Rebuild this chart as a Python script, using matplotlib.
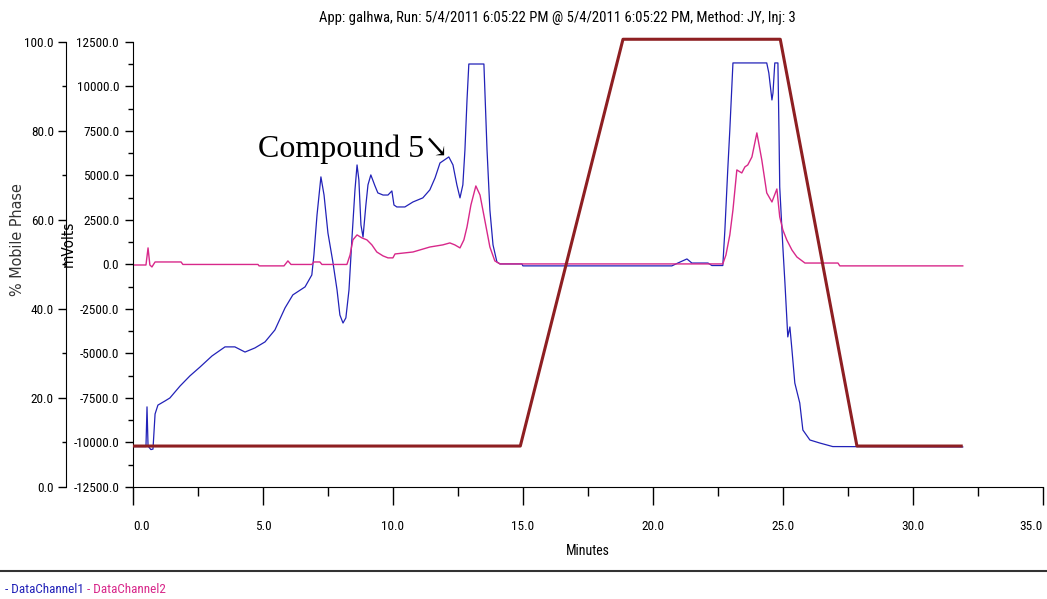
import matplotlib
matplotlib.use("Agg")
import matplotlib.pyplot as plt
from matplotlib import font_manager
from matplotlib.lines import Line2D
from matplotlib.ticker import MultipleLocator, FormatStrFormatter

# ---------------------------------------------------------------------------
# Data (time in minutes)
# ---------------------------------------------------------------------------

# DataChannel1 (mVolts)
ch1_t = [0.0, 0.5, 0.54, 0.58, 0.69, 0.77, 0.85, 0.96, 1.23, 1.42, 1.81, 2.19,
         2.58, 3.04, 3.54, 3.92, 4.31, 4.69, 5.08, 5.46, 5.85, 6.15, 6.62, 6.88,
         6.96, 7.08, 7.23, 7.35, 7.5, 7.69, 7.85, 7.96, 8.08, 8.19, 8.31, 8.42,
         8.54, 8.62, 8.69, 8.77, 8.85, 8.96, 9.04, 9.15, 9.31, 9.42, 9.62, 9.81,
         9.96, 10.04, 10.15, 10.46, 10.77, 11.15, 11.42, 11.62, 11.81, 12.15,
         12.31, 12.46, 12.58, 12.69, 12.77, 12.85, 12.92, 13.5, 13.62, 13.73,
         13.85, 14.0, 14.12, 14.96, 15.0, 20.73, 20.96, 21.31, 21.5, 22.12,
         22.27, 22.69, 22.77, 22.88, 22.96, 23.08, 24.38, 24.46, 24.58, 24.62,
         24.69, 24.81, 24.85, 24.88, 25.0, 25.08, 25.19, 25.27, 25.35, 25.46,
         25.65, 25.77, 26.04, 26.42, 26.92, 31.92]
ch1_mv = [-10230, -10230, -8000, -10200, -10400, -10370, -8400, -7900, -7670,
          -7500, -6830, -6260, -5760, -5140, -4630, -4630, -4920, -4690, -4350,
          -3680, -2440, -1710, -1260, -590, 530, 2780, 4920, 3900, 1770, 140,
          -1430, -2840, -3290, -3000, -1430, 1380, 4190, 5590, 4750, 2220, 1540,
          3340, 4470, 5030, 4410, 4020, 3900, 3900, 4130, 3340, 3230, 3230, 3510,
          3740, 4190, 4860, 5700, 6040, 5590, 4470, 3740, 4470, 6430, 9240,
          11260, 11260, 6430, 3060, 1100, 140, 30, 30, -80, -80, 80, 310, 80, 80,
          -60, -60, 1940, 5310, 7560, 11320, 11320, 10760, 9240, 9630, 11320,
          11320, 7560, 4350, 980, -1040, -4070, -3510, -4800, -6660, -7780,
          -9300, -9860, -10030, -10230, -10250]

# DataChannel2 (mVolts)
ch2_t = [0.0, 0.5, 0.58, 0.65, 0.73, 0.85, 1.85, 1.92, 4.81, 4.85, 5.81, 5.96,
         6.08, 6.88, 6.96, 7.19, 7.27, 8.23, 8.35, 8.46, 8.62, 8.81, 9.0, 9.19,
         9.38, 9.62, 9.81, 10.0, 10.08, 10.77, 11.42, 11.92, 12.19, 12.38,
         12.58, 12.73, 12.85, 13.0, 13.19, 13.35, 13.46, 13.62, 13.73, 13.92,
         14.12, 22.69, 22.81, 22.96, 23.08, 23.23, 23.42, 23.54, 23.65, 23.81,
         24.0, 24.19, 24.38, 24.58, 24.77, 24.88, 25.0, 25.15, 25.35, 25.54,
         25.85, 27.12, 27.19, 31.92]
ch2_mv = [-30, -30, 930, -30, -140, 140, 140, 0, 0, -80, -80, 200, 0, 0, 140,
          140, 0, 0, 530, 1380, 1660, 1490, 1380, 1100, 700, 480, 370, 370, 590,
          700, 980, 1100, 1210, 1100, 930, 1380, 2110, 3340, 4410, 3900, 3060,
          1830, 980, 200, 30, 30, 530, 1660, 3060, 5310, 5140, 5480, 5590, 6040,
          7390, 5870, 4020, 3510, 4240, 2670, 1940, 1380, 810, 420, 80, 80, -80,
          -80]

# Gradient program (% mobile phase)
grad_t = [0.0, 14.9, 18.85, 24.9, 27.85, 31.92]
grad_pct = [9.2, 9.2, 100.6, 100.6, 9.2, 9.2]

x_ticks = [0, 5, 10, 15, 20, 25, 30, 35]

TITLE = "App: galhwa, Run: 5/4/2011 6:05:22 PM @ 5/4/2011 6:05:22 PM, Method: JY, Inj: 3"

BLUE = "#2222b8"
PINK = "#d8288a"
BROWN = "#8e1f22"

# pick a narrow sans face if one is around, else squeeze DejaVu
installed = {f.name for f in font_manager.fontManager.ttflist}
NARROW = None
for cand in ["Liberation Sans Narrow", "Roboto Condensed", "Open Sans Condensed",
             "Noto Sans Condensed", "DejaVu Sans Condensed"]:
    if cand in installed:
        NARROW = cand
        break
if NARROW is None:
    NARROW = "DejaVu Sans"
    FS = 8.5
else:
    FS = 9.5
plt.rcParams["font.family"] = [NARROW, "DejaVu Sans"]
plt.rcParams["font.stretch"] = "condensed"

# ---------------------------------------------------------------------------
# Figure
# ---------------------------------------------------------------------------

fig = plt.figure(figsize=(10.47, 5.99), dpi=100)
ax = fig.add_axes([0.127, 0.187, 0.869, 0.743])

ax.plot(ch1_t, ch1_mv, color=BLUE, lw=0.9)
ax.plot(ch2_t, ch2_mv, color=PINK, lw=1.0)

ax.set_xlim(0, 35)
ax.set_ylim(-12500, 12500)
ax.set_xticks(x_ticks)
ax.xaxis.set_minor_locator(MultipleLocator(2.5))
ax.yaxis.set_major_locator(MultipleLocator(2500))
ax.yaxis.set_minor_locator(MultipleLocator(1250))
ax.xaxis.set_major_formatter(FormatStrFormatter("%.1f"))
ax.yaxis.set_major_formatter(FormatStrFormatter("%.1f"))
ax.tick_params(axis="x", which="major", length=13, width=1, pad=11, labelsize=FS)
ax.tick_params(axis="x", which="minor", length=6.5, width=1)
ax.tick_params(axis="y", which="major", length=6, width=1, pad=4, labelsize=FS)
ax.tick_params(axis="y", which="minor", length=3.5, width=1)
for s in ("top", "right"):
    ax.spines[s].set_visible(False)
ax.set_xlabel("Minutes", fontsize=FS + 0.5, labelpad=8)
ax.set_ylabel("mVolts", family="DejaVu Sans", fontsize=11)
ax.yaxis.set_label_coords(-0.0626, 0.546)

# % mobile phase on a second left axis (48 pt ~ 67 px left of the mV axis)
ax2 = ax.twinx()
ax2.plot(grad_t, grad_pct, color=BROWN, lw=2.2, solid_capstyle="butt",
         clip_on=False)
ax2.set_ylim(0, 100)
ax2.yaxis.tick_left()
ax2.yaxis.set_label_position("left")
ax2.spines["left"].set_position(("outward", 48))
for s in ("top", "right", "bottom"):
    ax2.spines[s].set_visible(False)
ax2.yaxis.set_major_locator(MultipleLocator(20))
ax2.yaxis.set_minor_locator(MultipleLocator(10))
ax2.yaxis.set_major_formatter(FormatStrFormatter("%.1f"))
ax2.tick_params(axis="y", which="major", length=6, width=1, pad=3, labelsize=FS)
ax2.tick_params(axis="y", which="minor", length=3, width=1)
ax2.set_ylabel("% Mobile Phase", family="DejaVu Sans", fontsize=11.5,
               color="#333333")
ax2.yaxis.set_label_coords(-0.1187, 0.555)

ax.text(0.137, 0.742, "Compound 5\u2198", transform=ax.transAxes,
        family=["Liberation Serif", "DejaVu Serif"], fontsize=23,
        ha="left", va="baseline")

fig.text(0.5325, 0.97, TITLE, ha="center", va="center", fontsize=FS + 1)

# legend strip at the bottom
fig.add_artist(Line2D([0, 1], [0.047, 0.047], transform=fig.transFigure,
                      color="#333333", lw=1.5))
fig.text(0.005, 0.016, "- DataChannel1", color=BLUE, fontsize=FS, va="center")
fig.text(0.0835, 0.016, "- DataChannel2", color=PINK, fontsize=FS, va="center")

# end labels of the time axis are pulled inside, as in the original software
fig.canvas.draw()
for tick in ax.xaxis.get_major_ticks():
    if tick.get_loc() == x_ticks[0]:
        tick.label1.set_horizontalalignment("left")
    elif tick.get_loc() == x_ticks[-1]:
        tick.label1.set_horizontalalignment("right")

fig.savefig("out.png", dpi=100)
